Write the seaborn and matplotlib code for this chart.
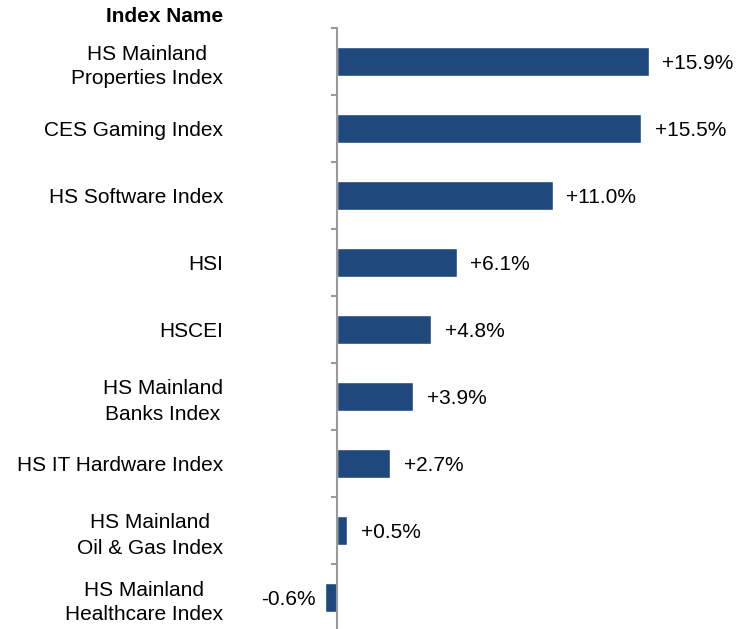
import matplotlib
matplotlib.use('Agg')
import matplotlib.pyplot as plt
import seaborn as sns
import pandas as pd
import numpy as np

# dados
index_names = [
    'HS Mainland\nProperties Index',
    'CES Gaming Index',
    'HS Software Index',
    'HSI',
    'HSCEI',
    'HS Mainland\nBanks Index',
    'HS IT Hardware Index',
    'HS Mainland\nOil & Gas Index',
    'HS Mainland\nHealthcare Index',
]
changes = [15.9, 15.5, 11.0, 6.1, 4.8, 3.9, 2.7, 0.5, -0.6]

df = pd.DataFrame({'Index': index_names, 'Change': changes})

sns.set_style('white')
plt.rcParams['font.family'] = ['Liberation Sans', 'DejaVu Sans']
plt.rcParams['text.color'] = 'black'
plt.rcParams['ytick.color'] = 'black'
plt.rcParams['ytick.labelcolor'] = 'black'

fig = plt.figure(figsize=(7.39, 6.29), dpi=100)
W, H = 739, 629
# eixo: x=0 em 337px, 19.6 px por unidade
x0_px, ppu = 337, 19.6
left_px, right_px = 300, 739
top_px, bot_px = 28, 631
ax = fig.add_axes([left_px / W, (H - bot_px) / H,
                   (right_px - left_px) / W, (bot_px - top_px) / H])

sns.barplot(data=df, x='Change', y='Index', orient='h', color='#1F497D',
            width=0.42, saturation=1, ax=ax)

ax.set_xlim((left_px - x0_px) / ppu, (right_px - x0_px) / ppu)
ax.set_ylim(len(index_names) - 0.5, -0.5)

for s in ['top', 'right', 'bottom']:
    ax.spines[s].set_visible(False)
ax.spines['left'].set_position(('data', 0))
ax.spines['left'].set_color('#9a9a9a')
ax.spines['left'].set_linewidth(1.5)

ax.set_xticks([])
ax.set_xlabel('')
ax.set_ylabel('')

fs = 15
ax.set_yticks(np.arange(len(index_names)))
ax.set_yticklabels(index_names, fontsize=fs)
ax.tick_params(axis='y', which='major', left=True, length=0, pad=82)
ax.set_yticks(np.arange(len(index_names) + 1) - 0.5, minor=True)
ax.tick_params(axis='y', which='minor', left=True, length=4, width=1.5,
               color='#9a9a9a')
for lab in ax.get_yticklabels():
    lab.set_multialignment('center')
    lab.set_linespacing(1.4)

# rótulos de valores
for i, v in enumerate(changes):
    if v >= 0:
        ax.text(v + 0.7, i, f'{v:+.1f}%', va='center_baseline', ha='left',
                fontsize=fs)
    else:
        ax.text(v - 0.5, i, f'{v:+.1f}%', va='center_baseline', ha='right',
                fontsize=fs)

fig.text(223 / W, 1 - 16 / H, 'Index Name', ha='right', va='center',
         fontsize=fs, fontweight='bold')

fig.savefig('out.png', dpi=100)
